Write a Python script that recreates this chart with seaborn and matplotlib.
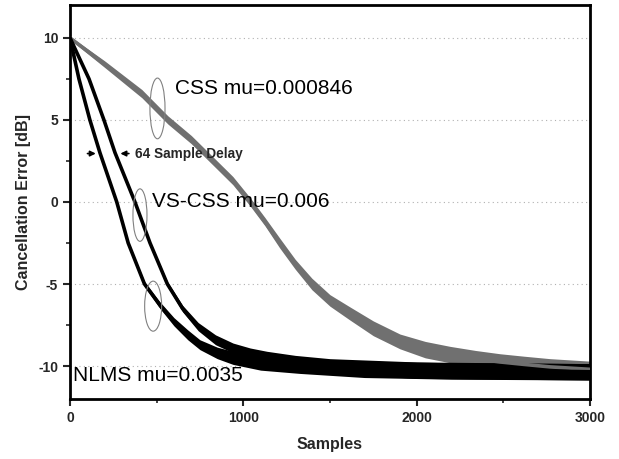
import matplotlib
matplotlib.use("Agg")
import matplotlib.pyplot as plt
from matplotlib.patches import Ellipse
from matplotlib.ticker import MultipleLocator
import pandas as pd
import seaborn as sns

# ── Data (samples, dB) ───────────────────────────────────
nlms_x = [0, 52, 115, 173, 270, 336, 430, 520, 600, 680, 750, 850, 941,
          1100, 1327, 1700, 2200, 3000]
nlms_y = [10, 7.5, 5, 3, 0, -2.5, -5, -6.3, -7.3, -8.1, -8.7, -9.2, -9.5,
          -9.8, -10.0, -10.2, -10.3, -10.35]
nlms_spread = [0.05, 0.05, 0.05, 0.05, 0.1, 0.1, 0.15, 0.2, 0.25, 0.3, 0.3,
               0.35, 0.4, 0.45, 0.45, 0.5, 0.5, 0.5]

vs_x = [0, 110, 196, 260, 375, 462, 562, 650, 740, 840, 941, 1040, 1136,
        1300, 1500, 2000, 3000]
vs_y = [10, 7.5, 5, 3, 0, -2.5, -5, -6.5, -7.6, -8.4, -8.9, -9.25, -9.5,
        -9.8, -10.0, -10.25, -10.35]
vs_spread = [0.05, 0.05, 0.05, 0.05, 0.1, 0.1, 0.15, 0.2, 0.25, 0.3, 0.3,
             0.35, 0.4, 0.45, 0.45, 0.5, 0.5]

css_x = [0, 200, 415, 565, 700, 825, 940, 1040, 1125, 1210, 1300, 1396,
         1500, 1616, 1750, 1904, 2050, 2193, 2340, 2481, 2620, 2770, 3000]
css_y = [10, 8.4, 6.6, 5.0, 3.8, 2.5, 1.3, 0, -1.2, -2.5, -3.8, -5.0,
         -6.0, -6.8, -7.7, -8.5, -9.0, -9.3, -9.55, -9.75, -9.9, -10.05, -10.2]
css_spread = [0.1, 0.2, 0.25, 0.25, 0.25, 0.25, 0.25, 0.25, 0.25, 0.3, 0.3,
              0.35, 0.35, 0.4, 0.45, 0.45, 0.5, 0.5, 0.5, 0.5, 0.5, 0.5, 0.5]

x_ticks = [0, 1000, 2000, 3000]
y_ticks = [-10, -5, 0, 5, 10]

sns.set_style("ticks")
plt.rcParams["font.family"] = ["Liberation Sans", "DejaVu Sans"]
plt.rcParams["axes.unicode_minus"] = False

fig = plt.figure(figsize=(6.19, 4.59), dpi=100)
ax = fig.add_axes([0.113, 0.131, 0.840, 0.858])

# dotted horizontal grid
for yv in y_ticks:
    ax.axhline(yv, color="#b0b0b0", ls=(0, (1, 3)), lw=0.8, zorder=0)

curves = [
    ("CSS", css_x, css_y, css_spread, "#707070"),
    ("VS-CSS", vs_x, vs_y, vs_spread, "#000000"),
    ("NLMS", nlms_x, nlms_y, nlms_spread, "#000000"),
]
rows = []
for name, xs, ys, sp, col in curves:
    lo = [y - s for y, s in zip(ys, sp)]
    hi = [y + s for y, s in zip(ys, sp)]
    ax.fill_between(xs, lo, hi, color=col, lw=0, zorder=2)
    rows += [{"Samples": x, "dB": y, "algo": name} for x, y in zip(xs, ys)]
df = pd.DataFrame(rows)

sns.lineplot(data=df, x="Samples", y="dB", hue="algo", sort=False,
             estimator=None, palette={"CSS": "#707070", "VS-CSS": "#000000",
                                      "NLMS": "#000000"},
             linewidth=2.6, legend=False, ax=ax, zorder=3)

# annotations
txt = dict(fontsize=15, color="black")
ax.text(606, 6.9, "CSS mu=0.000846", va="center", ha="left", **txt)
ax.text(473, 0.0, "VS-CSS mu=0.006", va="center", ha="left", **txt)
ax.text(17, -10.6, "NLMS mu=0.0035", va="center", ha="left", **txt)

for cx, cy, w, h in [(505, 5.7, 87, 3.7), (404, -0.8, 81, 3.2), (480, -6.35, 98, 3.05)]:
    ax.add_patch(Ellipse((cx, cy), w, h, fill=False, ec="#808080", lw=0.8, zorder=4))

ax.annotate("", xy=(165, 2.95), xytext=(85, 2.95),
            arrowprops=dict(arrowstyle="-|>", color="black", lw=1.2, mutation_scale=8))
ax.annotate("64 Sample Delay", xy=(275, 2.95), xytext=(375, 2.95),
            fontsize=9.8, fontweight="bold", va="center", ha="left",
            arrowprops=dict(arrowstyle="-|>", color="black", lw=1.2, mutation_scale=8))

ax.set_xlim(0, 3000)
ax.set_ylim(-12, 12)
ax.set_xticks(x_ticks)
ax.set_yticks(y_ticks)
ax.xaxis.set_minor_locator(MultipleLocator(500))
ax.yaxis.set_minor_locator(MultipleLocator(2.5))
ax.tick_params(which="major", direction="out", length=5, width=1.5,
               labelsize=10)
ax.tick_params(which="minor", direction="out", length=3, width=1.2)
for lab in ax.get_xticklabels() + ax.get_yticklabels():
    lab.set_fontweight("bold")

for s in ax.spines.values():
    s.set_visible(True)
    s.set_linewidth(2)
    s.set_color("black")

ax.set_xlabel("Samples", fontsize=11.5, fontweight="bold", labelpad=9)
ax.set_ylabel("Cancellation Error [dB]", fontsize=11.5, fontweight="bold", labelpad=5)

fig.savefig("out.png", dpi=100)
plt.close("all")
